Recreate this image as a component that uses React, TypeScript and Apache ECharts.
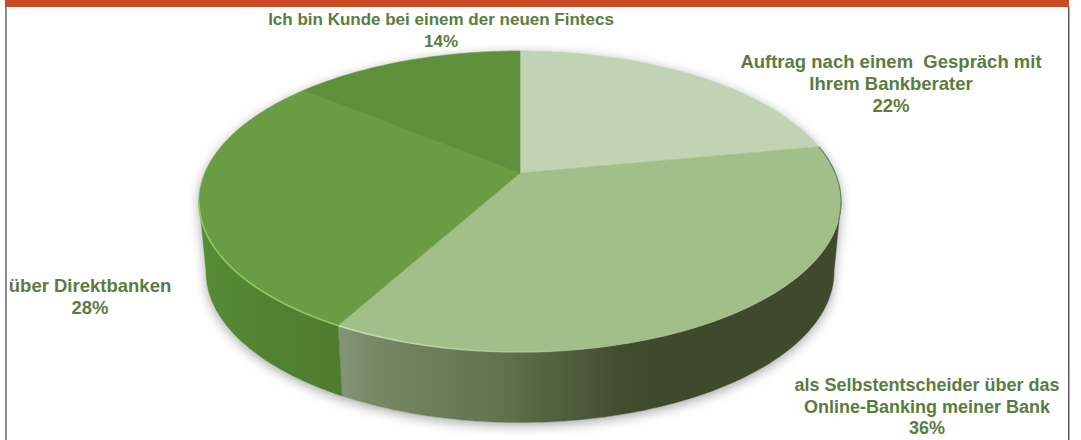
import React, { useEffect, useRef } from "react";
import * as echarts from "echarts";

const categories = [
  "Auftrag nach einem  Gespräch mit\nIhrem Bankberater",
  "als Selbstentscheider über das\nOnline-Banking meiner Bank",
  "über Direktbanken",
  "Ich bin Kunde bei einem der neuen Fintecs",
];
const shares = [22, 36, 28, 14];

const topColors = ["#c0d3b3", "#a2bf8a", "#6a9d43", "#5f913c"];
const labelCentres = [
  [891, 51],
  [927, 374],
  [90, 275],
  [441, 9],
];
const labelSizes = [18.5, 18, 18.5, 17];

const TOP = { cx: 520, cy: 201.5, rx: 321, ry: 150.5 };
const BOTTOM = { cx: 520, cy: 272, rx: 314, ry: 150.5 };
const PERSPECTIVE = 0.189;
const FRONT_START = 0.28;
const FRONT_END = 0.72;
const total = shares.reduce((a, b) => a + b, 0);

type Ell = { cx: number; cy: number; rx: number; ry: number };

function rim(frac: number, e: Ell): number[] {
  const t = frac * Math.PI * 2;
  const x = Math.sin(t);
  const y = Math.cos(t);
  const d = 1 + PERSPECTIVE * y;
  const py = (y + PERSPECTIVE) / d;
  const px = (x * Math.sqrt(1 - PERSPECTIVE * PERSPECTIVE)) / d;
  return [e.cx + e.rx * px, e.cy - e.ry * py];
}

function arc(a: number, b: number, e: Ell): number[][] {
  const n = Math.max(2, Math.ceil((b - a) * 360));
  const pts: number[][] = [];
  for (let i = 0; i <= n; i++) pts.push(rim(a + ((b - a) * i) / n, e));
  return pts;
}

const wallFill: Record<number, any> = {
  1: {
    type: "linear", x: 340, y: 0, x2: 650, y2: 0, global: true,
    colorStops: [
      { offset: 0, color: "#84947a" },
      { offset: 0.12, color: "#758763" },
      { offset: 0.5, color: "#61744f" },
      { offset: 0.9, color: "#424d30" },
      { offset: 1, color: "#3f4a2c" },
    ],
  },
  2: {
    type: "linear", x: 200, y: 0, x2: 340, y2: 0, global: true,
    colorStops: [
      { offset: 0, color: "#578c36" },
      { offset: 0.5, color: "#518231" },
      { offset: 1, color: "#4e7d2e" },
    ],
  },
};

const rimHighlight: Record<number, any> = {
  1: {
    type: "linear", x: 340, y: 0, x2: 620, y2: 0, global: true,
    colorStops: [
      { offset: 0, color: "#c4deb0" },
      { offset: 1, color: "rgba(196,222,176,0)" },
    ],
  },
  2: "#8ccb5a",
};

export default function App() {
  const ref = useRef<HTMLDivElement>(null);
  useEffect(() => {
    document.body.style.margin = "0";
    const chart = echarts.init(ref.current!, null, { renderer: "svg" });
    let acc = 0;
    const rows = shares.map((v, i) => {
      const row = { name: categories[i], value: [v, acc, i] };
      acc += v;
      return row;
    });
    const apex = [TOP.cx, TOP.cy - TOP.ry * PERSPECTIVE];
    chart.setOption({
      animation: false,
      backgroundColor: "#ffffff",
      graphic: [
        { type: "rect", shape: { x: 5, y: 0, width: 1064, height: 7 }, style: { fill: "#c94a23" } },
        { type: "rect", shape: { x: 5, y: 7, width: 2, height: 433 }, style: { fill: "#8f8f8f" } },
        { type: "rect", shape: { x: 1068, y: 7, width: 1.5, height: 433 }, style: { fill: "#5a5a5a" } },
      ],
      series: [
        {
          type: "custom",
          coordinateSystem: "none",
          silent: true,
          z: 1,
          data: [[total]],
          renderItem: () => ({
            type: "polygon",
            shape: { points: [...arc(FRONT_START, FRONT_END, BOTTOM), ...arc(FRONT_END, 1 + FRONT_START, TOP)] },
            style: {
              fill: "#ffffff",
              shadowBlur: 12,
              shadowColor: "rgba(0,0,0,0.35)",
              shadowOffsetX: 0,
              shadowOffsetY: 3,
            },
          }),
        },
        {
          type: "custom",
          coordinateSystem: "none",
          silent: true,
          z: 2,
          data: rows,
          renderItem: (_: any, api: any) => {
            const v = api.value(0) as number;
            const start = (api.value(1) as number) / total;
            const i = api.value(2) as number;
            const end = start + v / total;
            const children: any[] = [];
            const wa = Math.max(start, FRONT_START);
            const wb = Math.min(end, FRONT_END);
            if (wb > wa) {
              const fill = wallFill[i];
              children.push({
                type: "polygon",
                shape: { points: [...arc(wa, wb, TOP), ...arc(wa, wb, BOTTOM).reverse()] },
                style: { fill, stroke: fill, lineWidth: 0.5 },
              });
            }
            const col = topColors[i];
            children.push({
              type: "polygon",
              shape: { points: [apex, ...arc(start, end, TOP)] },
              style: { fill: col, stroke: col, lineWidth: 0.6 },
            });
            if (wb > wa) {
              children.push({
                type: "polyline",
                shape: { points: arc(wa, wb, TOP) },
                style: { fill: "none", stroke: rimHighlight[i], lineWidth: 1.6 },
              });
            }
            if (i === 1) {
              children.push({
                type: "polyline",
                shape: { points: arc(start, FRONT_START + 0.02, TOP) },
                style: { fill: "none", stroke: "#6f8260", lineWidth: 1.2 },
              });
            }
            const [lx, ly] = labelCentres[i];
            children.push({
              type: "text",
              style: {
                x: lx,
                y: ly,
                align: "center",
                verticalAlign: "top",
                text: `${categories[i]}\n${v}%`,
                fontFamily: "Liberation Sans",
                fontWeight: "bold",
                fontSize: labelSizes[i],
                lineHeight: 21.7,
                fill: "#587d3f",
              },
            });
            return { type: "group", children };
          },
        },
      ],
    });
    return () => chart.dispose();
  }, []);
  return <div ref={ref} style={{ width: 1081, height: 440 }} />;
}
